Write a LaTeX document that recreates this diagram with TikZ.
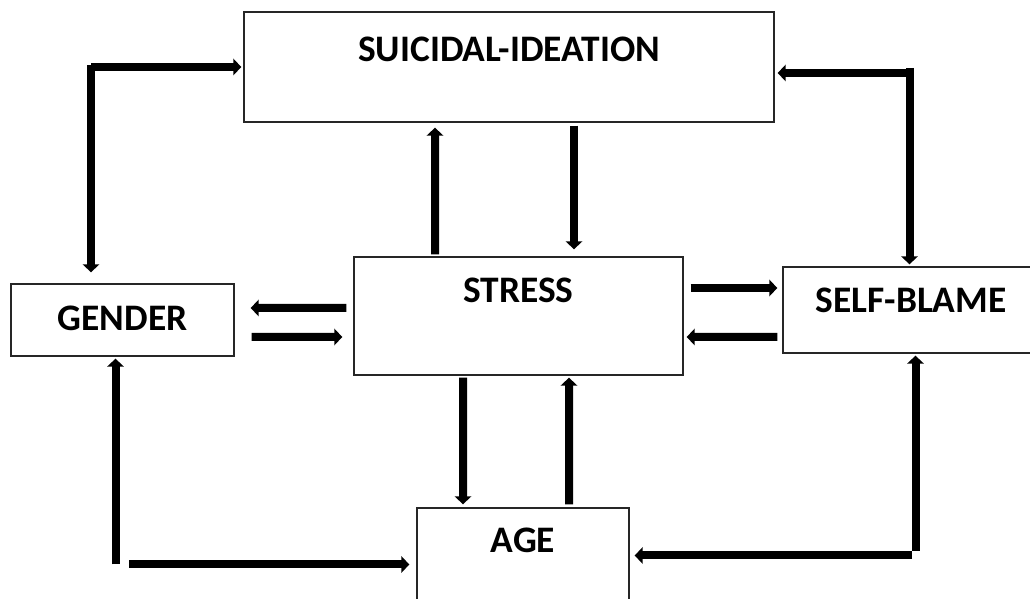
\documentclass[tikz,border=0pt]{standalone}
\usepackage{fontspec}
\setmainfont{Carlito}
\usetikzlibrary{arrows.meta}

\begin{document}
\begin{tikzpicture}[
    box/.style={rectangle, draw=black!85, line width=0.8pt, inner sep=0pt,
                text centered, font=\bfseries\fontsize{21.3}{25}\selectfont},
    arr/.style={-{Triangle[width=0.33cm, length=0.16cm]}, line width=0.16cm},
]
    \clip (0,0) rectangle (20.6,11.98);

    \node[box, minimum width=10.6cm, text height=1cm, text depth=1.2cm]     (ideation) at (10.18,10.64) {SUICIDAL-IDEATION};
    \node[box, minimum width=6.58cm, text height=0.92cm, text depth=1.44cm] (stress)   at (10.37,5.66)  {STRESS};
    \node[box, minimum width=4.46cm, text height=0.94cm, text depth=0.5cm]  (gender)   at (2.45,5.58)   {GENDER};
    \node[box, minimum width=5.12cm, text height=0.92cm, text depth=0.8cm]  (blame)    at (18.22,5.78)  {SELF-BLAME};
    \node[box, minimum width=4.24cm, text height=0.9cm, text depth=1.22cm]  (age)      at (10.46,0.76)  {AGE};

    \coordinate (gi) at (1.82,10.64);
    \coordinate (bi) at (18.19,10.52);
    \coordinate (ga) at (2.31,0.69);
    \coordinate (ba) at (18.31,0.87);

    \draw[arr] ([xshift=-1.67cm, yshift=0.04cm]stress.north) -- ([xshift=-1.48cm, yshift=-0.1cm]ideation.south);
    \draw[arr] ([xshift=1.3cm, yshift=-0.06cm]ideation.south) -- ([xshift=1.11cm, yshift=0.14cm]stress.north);
    \draw[arr] ([xshift=-0.14cm, yshift=0.16cm]stress.west) -- ([xshift=0.32cm, yshift=0.24cm]gender.east);
    \draw[arr] ([xshift=0.34cm, yshift=-0.34cm]gender.east) -- ([xshift=-0.22cm, yshift=-0.42cm]stress.west);
    \draw[arr] ([xshift=0.14cm, yshift=0.56cm]stress.east) -- ([xshift=-0.1cm, yshift=0.44cm]blame.west);
    \draw[arr] ([xshift=-0.1cm, yshift=-0.54cm]blame.west) -- ([xshift=0.06cm, yshift=-0.42cm]stress.east);
    \draw[arr] ([xshift=-1.11cm, yshift=-0.04cm]stress.south) -- ([xshift=-1.2cm, yshift=0.06cm]age.north);
    \draw[arr] ([xshift=0.92cm, yshift=0.06cm]age.north) -- ([xshift=1.01cm, yshift=-0.04cm]stress.south);

    \draw[arr, shorten >=0.04cm] (gi) -- (gi -| ideation.west);
    \draw[arr, shorten >=0.22cm] ([yshift=0.04cm]gi) -- (gi |- gender.north);
    \draw[arr, shorten >=0.06cm] (bi) -- (bi -| ideation.east);
    \draw[arr, shorten >=0.04cm] ([yshift=0.1cm]bi) -- (bi |- blame.north);
    \draw[arr, shorten >=0.04cm] (ga) -- (ga |- gender.south);
    \draw[arr, shorten >=0.14cm] ([xshift=0.27cm]ga) -- (ga -| age.west);
    \draw[arr, shorten >=0.04cm] ([yshift=0.09cm]ba) -- (ba |- blame.south);
    \draw[arr, shorten >=0.1cm] ([xshift=-0.07cm]ba) -- (ba -| age.east);
\end{tikzpicture}
\end{document}
